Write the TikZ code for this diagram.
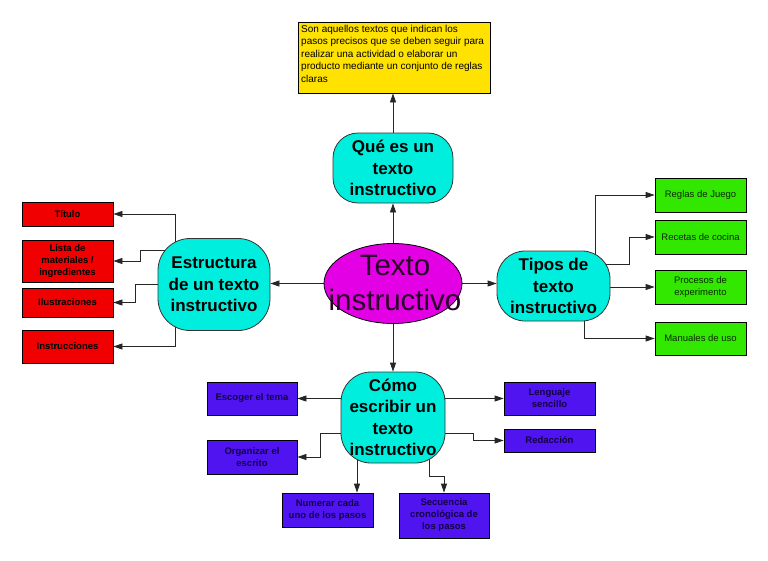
\documentclass[tikz,border=0pt]{standalone}
\usepackage{fontspec}
\setmainfont{Liberation Sans}
\usetikzlibrary{arrows.meta,shapes.geometric}
\pgfdeclarelayer{back}
\pgfdeclarelayer{bg}
\pgfsetlayers{back,bg,main}
\definecolor{cy}{RGB}{0,238,222}
\definecolor{mg}{RGB}{228,0,228}
\definecolor{yl}{RGB}{255,226,0}
\definecolor{rd}{RGB}{240,0,0}
\definecolor{gr}{RGB}{50,232,0}
\definecolor{bl}{RGB}{80,20,240}
\definecolor{navy}{RGB}{20,0,70}
\definecolor{dgreen}{RGB}{10,40,0}
\definecolor{dpurple}{RGB}{40,0,40}
\tikzset{
  arr/.style={draw=black!85,line width=0.8pt,-{Triangle[length=9pt,width=6pt]}},
  bigbox/.style={draw=black!80,line width=0.8pt,fill=cy,rounded corners=28pt,inner sep=0pt,align=center,font=\fontsize{17}{21.5}\selectfont\bfseries},
  redbox/.style={draw=black,line width=0.8pt,fill=rd,inner sep=0pt,minimum width=91pt,align=center,font=\fontsize{9.5}{12}\selectfont\bfseries},
  greenbox/.style={draw=black,line width=0.8pt,fill=gr,inner sep=0pt,minimum width=91pt,minimum height=34pt,align=center,text=dgreen,font=\fontsize{9.5}{12}\selectfont},
  bluebox/.style={draw=black,line width=0.8pt,fill=bl,inner sep=0pt,minimum width=91pt,align=center,text=navy,font=\fontsize{9.5}{12}\selectfont\bfseries}
}
\begin{document}
\begin{tikzpicture}[x=1pt,y=-1pt]
\begin{pgfonlayer}{back}
\fill[white] (0,0) rectangle (768,560);
\end{pgfonlayer}
\useasboundingbox (0,0) rectangle (768,560);
% top
\node[draw=black,line width=0.8pt,fill=yl,minimum width=192pt,minimum height=71pt,inner sep=0pt] (yel) at (394,57.5) {};
\node[anchor=north west,inner sep=0pt,align=left,font=\fontsize{10}{12.5}\selectfont] (yeltext) at (301,25)
  {Son aquellos textos que indican los\\pasos precisos que se deben seguir para\\realizar una actividad o elaborar un\\producto mediante un conjunto de reglas\\claras};
\node[bigbox,minimum width=120pt,minimum height=70pt,rounded corners=25pt] (que) at (393,168) {Qué es un\\texto\\instructivo};
% centre
\node[ellipse,draw=black,line width=0.8pt,fill=mg,minimum width=138pt,minimum height=80pt,inner sep=0pt] (ell) at (393,283.5) {};
\node[inner sep=0pt,align=center,text=dpurple,font=\fontsize{29.5}{35}\selectfont] (elltext) at (395,283) {Texto\\instructivo};
% main branches
\node[bigbox,minimum width=112pt,minimum height=92pt,rounded corners=32pt] (estr) at (214,284.5) {Estructura\\de un texto\\instructivo};
\node[bigbox,minimum width=113pt,minimum height=70pt] (tipos) at (553.5,286) {Tipos de\\texto\\instructivo};
\node[bigbox,minimum width=104pt,minimum height=91pt,rounded corners=30pt] (como) at (393,417.5) {Cómo\\escribir un\\texto\\instructivo};
% red
\node[redbox,minimum height=24pt] (tit) at (67.5,214) {Título};
\node[redbox,minimum height=42pt] (lista) at (67.5,261) {Lista de\\materiales /\\ingredientes};
\node[redbox,minimum height=29pt] (ilus) at (67.5,302.5) {Ilustraciones};
\node[redbox,minimum height=33pt] (instr) at (67.5,346.5) {Instrucciones};
% green
\node[greenbox] (reglas) at (700.5,195) {Reglas de Juego};
\node[greenbox] (recetas) at (700.5,237) {Recetas de cocina};
\node[greenbox] (procesos) at (700.5,287) {Procesos de\\experimento};
\node[greenbox,minimum height=33pt] (manuales) at (700.5,338.5) {Manuales de uso};
% blue
\node[bluebox,minimum width=90pt,minimum height=33pt] (escoger) at (252,398.5) {Escoger el tema};
\node[bluebox,minimum width=90pt,minimum height=34pt] (org) at (252,457) {Organizar el\\escrito};
\node[bluebox,minimum height=34pt] (num) at (327.5,510) {Numerar cada\\uno de los pasos};
\node[bluebox,minimum width=90pt,minimum height=45pt] (sec) at (444,515.5) {Secuencia\\cronológica de\\los pasos};
\node[bluebox,minimum height=33pt] (leng) at (549.5,398.5) {Lenguaje\\sencillo};
\node[bluebox,minimum height=23pt] (red) at (549.5,440.5) {Redacción};
\begin{pgfonlayer}{bg}
\draw[arr] (ell.north) -- (que.south);
\draw[arr] (que.north) -- (que.north |- yel.south);
\draw[arr] (ell.center) -- (ell.center -| estr.east);
\draw[arr] (ell.center) -- (ell.center -| tipos.west);
\draw[arr] (ell.south) -- (como.north);
% estructura
\draw[arr] ([xshift=-39pt]estr.center) |- (tit.east);
\draw[arr] ([yshift=34pt]estr.center) -| ([xshift=27pt]lista.east) -- (lista.east);
\draw[arr] (estr.center) -| ([xshift=22pt]ilus.east) -- (ilus.east);
\draw[arr] ([xshift=-39pt]estr.center) |- (instr.east);
% tipos
\draw[arr] ([xshift=41.5pt]tipos.center) |- (reglas.west);
\draw[arr] ([yshift=22pt]tipos.center) -| ([xshift=-25pt]recetas.west) -- (recetas.west);
\draw[arr] (procesos.west -| tipos.center) -- (procesos.west);
\draw[arr] ([xshift=30.5pt]tipos.center) |- (manuales.west);
% como
\draw[arr] (escoger.east -| como.center) -- (escoger.east);
\draw[arr] ([yshift=-15.5pt]como.center) -| ([xshift=23pt]org.east) -- (org.east);
\draw[arr] ([xshift=-36pt]como.center) -- ([xshift=-36pt]como.center |- num.north);
\draw[arr] ([xshift=36pt]como.center) |- ([yshift=16pt]sec.north) -- (sec.north);
\draw[arr] (leng.west -| como.center) -- (leng.west);
\draw[arr] ([yshift=-15.5pt]como.center) -| ([xshift=-30pt]red.west) -- (red.west);
\end{pgfonlayer}
\end{tikzpicture}
\end{document}
